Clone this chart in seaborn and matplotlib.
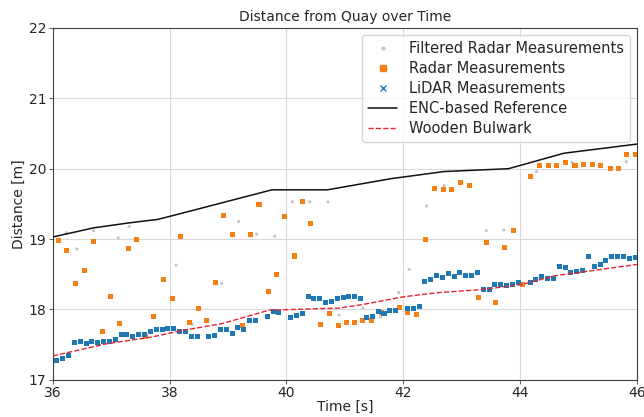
import matplotlib
matplotlib.use("Agg")
import matplotlib.pyplot as plt
from matplotlib.lines import Line2D
import seaborn as sns

# ENC-based reference (black line)
enc_t = [36.0, 36.7, 37.3, 37.8, 38.5, 39.75, 40.7, 41.8, 42.7, 43.8, 44.75, 46.0]
enc_d = [19.03, 19.16, 19.23, 19.28, 19.43, 19.70, 19.70, 19.86, 19.96, 20.0, 20.22, 20.35]

# wooden bulwark (red dashed)
wood_t = [36.0, 36.9, 37.7, 38.2, 38.9, 39.7, 40.9, 41.3, 42.0, 42.6, 43.3, 44.0, 44.6, 45.3, 46.0]
wood_d = [17.34, 17.51, 17.61, 17.70, 17.80, 17.99, 18.02, 18.07, 18.18, 18.24, 18.28, 18.35, 18.48, 18.56, 18.64]

# LiDAR measurements
lidar_t = [36.07, 36.17, 36.27, 36.37, 36.47, 36.57, 36.67, 36.77, 36.87, 36.97,
           37.07, 37.17, 37.27, 37.37, 37.47, 37.57, 37.67, 37.77, 37.87, 37.97,
           38.07, 38.17, 38.27, 38.37, 38.47, 38.67, 38.77, 38.87, 38.97,
           39.07, 39.17, 39.27, 39.37, 39.47, 39.67, 39.77, 39.87,
           40.07, 40.17, 40.27, 40.37, 40.47, 40.57, 40.67, 40.77, 40.87, 40.97,
           41.07, 41.17, 41.27, 41.37, 41.47, 41.57, 41.67, 41.77, 41.87,
           42.07, 42.17, 42.27, 42.37, 42.47, 42.57, 42.67, 42.77, 42.87, 42.97,
           43.07, 43.17, 43.27, 43.37, 43.47, 43.57, 43.67, 43.77, 43.87, 43.97,
           44.17, 44.27, 44.37, 44.47, 44.57, 44.67, 44.77, 44.87, 44.97,
           45.07, 45.17, 45.27, 45.37, 45.47, 45.57, 45.67, 45.77, 45.87, 45.97]
lidar_d = [17.28, 17.30, 17.34, 17.53, 17.54, 17.52, 17.54, 17.53, 17.55, 17.55,
           17.57, 17.64, 17.65, 17.62, 17.64, 17.65, 17.69, 17.71, 17.71, 17.73,
           17.73, 17.69, 17.69, 17.61, 17.61, 17.62, 17.63, 17.71, 17.71,
           17.66, 17.74, 17.71, 17.84, 17.84, 17.90, 17.97, 17.96,
           17.89, 17.92, 17.95, 18.19, 18.15, 18.16, 18.10, 18.11, 18.16, 18.17,
           18.18, 18.19, 18.15, 17.89, 17.90, 17.97, 17.94, 17.99, 17.99,
           18.01, 18.02, 18.04, 18.40, 18.43, 18.48, 18.45, 18.51, 18.47, 18.53,
           18.49, 18.49, 18.53, 18.29, 18.29, 18.35, 18.35, 18.34, 18.35, 18.38,
           18.38, 18.43, 18.47, 18.44, 18.44, 18.61, 18.60, 18.52, 18.54,
           18.56, 18.75, 18.61, 18.64, 18.69, 18.75, 18.75, 18.75, 18.73, 18.74]

# radar measurements
radar_t = [36.09, 36.23, 36.39, 36.55, 36.69, 36.85, 36.99, 37.15, 37.29, 37.43,
           37.59, 37.73, 37.89, 38.05, 38.19, 38.34, 38.49, 38.63, 38.78, 38.93,
           39.07, 39.24, 39.38, 39.53, 39.69, 39.83, 39.97, 40.13, 40.27, 40.42,
           40.58, 40.73, 40.89, 41.03, 41.17, 41.31, 41.46, 41.63, 41.93, 42.08,
           42.23, 42.38, 42.54, 42.69, 42.83, 42.98, 43.13, 43.28, 43.43, 43.58,
           43.73, 43.89, 44.04, 44.18, 44.33, 44.48, 44.63, 44.78, 44.94, 45.09,
           45.24, 45.38, 45.54, 45.68, 45.83, 45.98]
radar_d = [18.98, 18.84, 18.37, 18.56, 18.97, 17.69, 18.18, 17.80, 18.86, 18.99,
           17.62, 17.90, 18.43, 18.16, 19.03, 17.81, 18.01, 17.84, 18.38, 19.34,
           19.07, 17.77, 19.07, 19.49, 18.26, 18.50, 19.32, 18.76, 19.53, 19.22,
           17.78, 17.94, 17.77, 17.81, 17.81, 17.84, 17.84, 17.96, 18.03, 17.96,
           17.93, 19.00, 19.72, 19.70, 19.70, 19.81, 19.76, 18.17, 18.95, 18.10,
           18.88, 19.12, 18.36, 19.89, 20.05, 20.05, 20.05, 20.09, 20.05, 20.06,
           20.06, 20.05, 20.01, 20.01, 20.20, 20.20]

# filtered radar measurements
filt_t = [36.23, 36.41, 36.70, 37.12, 37.31, 38.11, 38.39, 38.89, 39.18, 39.49,
          39.80, 40.10, 40.40, 40.71, 40.90, 41.31, 41.61, 41.92, 42.10, 42.40,
          42.70, 43.42, 43.72, 44.28, 44.89, 45.82]
filt_d = [19.09, 18.86, 19.12, 19.02, 19.18, 18.63, 17.79, 18.37, 19.25, 19.07,
          19.04, 19.53, 19.53, 19.53, 17.92, 18.02, 17.89, 18.24, 18.57, 19.47,
          19.76, 19.12, 19.13, 19.96, 20.09, 20.10]

sns.set_style("whitegrid", {"axes.edgecolor": "0.25", "grid.color": "0.85",
                            "xtick.bottom": True, "ytick.left": True})
plt.rcParams["font.family"] = ["DejaVu Sans"]

fig = plt.figure(figsize=(6.44, 4.17), dpi=100)
ax = fig.add_axes([0.082, 0.089, 0.907, 0.844])

sns.scatterplot(x=filt_t, y=filt_d, ax=ax, color="#c4c4c4", s=5, marker="o",
                edgecolor="none", zorder=2)
sns.scatterplot(x=radar_t, y=radar_d, ax=ax, color="#f57f17", s=13, marker="s",
                edgecolor="none", zorder=3)
sns.scatterplot(x=lidar_t, y=lidar_d, ax=ax, color="#1f77b4", s=13, marker="s",
                edgecolor="none", zorder=3)
sns.lineplot(x=enc_t, y=enc_d, ax=ax, color="#111111", linewidth=1.1,
             estimator=None, sort=False, zorder=4)
sns.lineplot(x=wood_t, y=wood_d, ax=ax, color="#e8212e", linewidth=1.0,
             linestyle="--", estimator=None, sort=False, zorder=4)

ax.set_xlim(36, 46)
ax.set_ylim(17, 22)
ax.set_xticks([36, 38, 40, 42, 44, 46])
ax.set_yticks([17, 18, 19, 20, 21, 22])
ax.tick_params(labelsize=10, length=3, pad=1.5, color="0.4")
for sp in ax.spines.values():
    sp.set_linewidth(0.8)
ax.set_title("Distance from Quay over Time", fontsize=10, pad=5)
ax.set_xlabel("Time [s]", fontsize=10, labelpad=0)
ax.set_ylabel("Distance [m]", fontsize=10, labelpad=2)

handles = [
    Line2D([], [], linestyle="none", marker="o", markersize=2, color="#c4c4c4"),
    Line2D([], [], linestyle="none", marker="s", markersize=4, color="#f57f17"),
    Line2D([], [], linestyle="none", marker="x", markersize=4, color="#1f77b4"),
    Line2D([], [], color="#111111", linewidth=1.1),
    Line2D([], [], color="#e8212e", linewidth=1.0, linestyle="--"),
]
labels = ["Filtered Radar Measurements", "Radar Measurements", "LiDAR Measurements",
          "ENC-based Reference", "Wooden Bulwark"]
ax.legend(handles, labels, loc="upper right", fontsize=10.5, frameon=True,
          framealpha=0.8, borderaxespad=0.5, handlelength=2.0, labelspacing=0.35)

fig.savefig("out.png", dpi=100)
